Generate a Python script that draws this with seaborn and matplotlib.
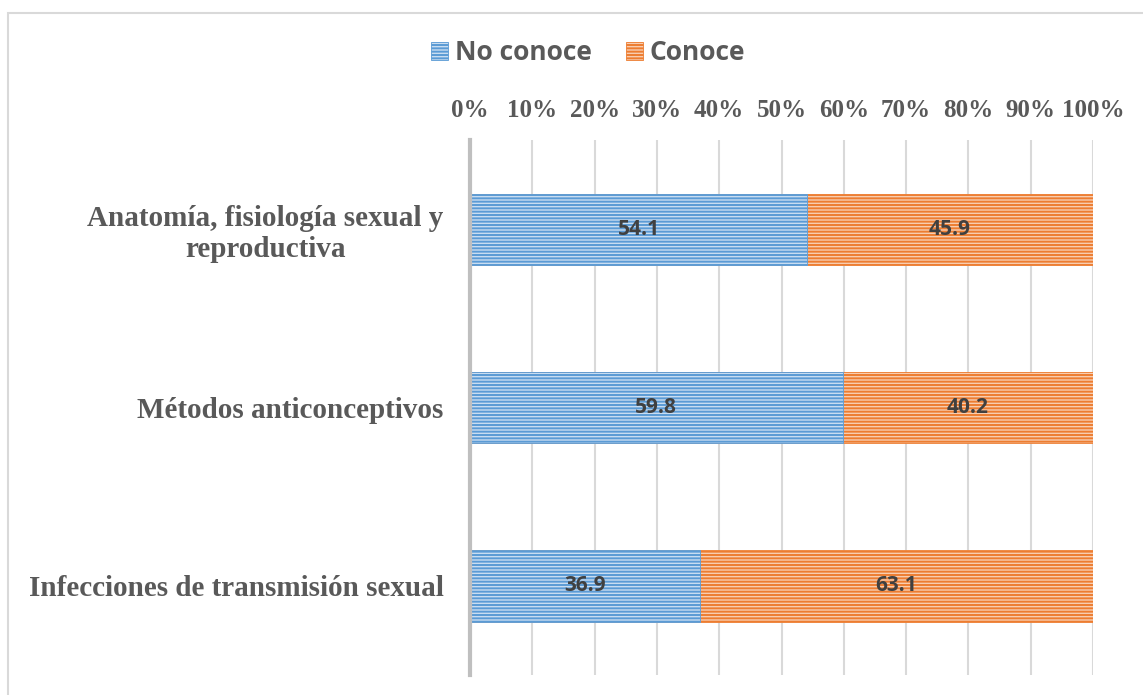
import matplotlib
matplotlib.use("Agg")
import matplotlib.pyplot as plt
import seaborn as sns
import pandas as pd
from matplotlib.patches import Rectangle, Patch

categories = ["Anatomía, fisiología sexual y\nreproductiva",
              "Métodos anticonceptivos",
              "Infecciones de transmisión sexual"]
no_conoce = [54.1, 59.8, 36.9]
conoce = [45.9, 40.2, 63.1]
series_names = ["No conoce", "Conoce"]
tick_values = [0, 10, 20, 30, 40, 50, 60, 70, 80, 90, 100]
tick_labels = ["0%", "10%", "20%", "30%", "40%", "50%", "60%", "70%", "80%", "90%", "100%"]

blue = "#5B9BD5"
blue_light = "#C9DDF1"
orange = "#ED7D31"
orange_light = "#F8CDB0"

sns.set_theme(style="white")
plt.rcParams["hatch.linewidth"] = 1.4

df = pd.DataFrame({"cat": categories, "no": no_conoce, "si": conoce})
df["total"] = df["no"] + df["si"]

fig = plt.figure(figsize=(11.43, 6.95), dpi=100)
ax = fig.add_axes([470 / 1143, 20 / 695, 623 / 1143, 535 / 695])

# Conoce (stacked, drawn as cumulative total)
sns.barplot(data=df, y="cat", x="total", orient="h", color=orange, width=0.4,
            ax=ax, zorder=2)
n1 = len(ax.patches)
for p in ax.patches[:n1]:
    p.set_facecolor(orange_light)
    p.set_edgecolor(orange)
    p.set_hatch("-----")
    p.set_linewidth(0.6)
sns.barplot(data=df, y="cat", x="no", orient="h", color=blue, width=0.4,
            ax=ax, zorder=3)
for p in ax.patches[n1:]:
    p.set_facecolor(blue_light)
    p.set_edgecolor(blue)
    p.set_hatch("-----")
    p.set_linewidth(0.6)

# data labels
for i in range(len(categories)):
    ax.text(no_conoce[i] / 2, i, f"{no_conoce[i]:.1f}", ha="center", va="center",
            fontsize=15, fontweight="bold", color="#404040", family="Open Sans", zorder=5)
    ax.text(no_conoce[i] + conoce[i] / 2, i, f"{conoce[i]:.1f}", ha="center", va="center",
            fontsize=15, fontweight="bold", color="#404040", family="Open Sans", zorder=5)

ax.set_xlim(0, 100)
ax.set_ylim(2.5, -0.5)
ax.set_xticks(tick_values)
ax.set_xticklabels(tick_labels)
ax.xaxis.tick_top()
ax.tick_params(axis="x", which="both", length=0, pad=13, labelsize=18, labelcolor="#595959")
ax.tick_params(axis="y", which="both", length=0, pad=19, labelsize=21, labelcolor="#595959")
for lab in ax.get_xticklabels():
    lab.set_family("Liberation Serif")
    lab.set_fontweight("bold")
for lab in ax.get_yticklabels():
    lab.set_family("Liberation Serif")
    lab.set_fontweight("bold")
    lab.set_multialignment("center")
    lab.set_linespacing(1.2)
ax.set_xlabel("")
ax.set_ylabel("")
ax.grid(axis="x", color="#D9D9D9", linewidth=1.5, zorder=0)
ax.set_axisbelow(True)
for s in ["top", "right", "bottom"]:
    ax.spines[s].set_visible(False)
ax.spines["left"].set_color("#BFBFBF")
ax.spines["left"].set_linewidth(3)
ax.spines["left"].set_zorder(6)

handles = [Patch(facecolor=blue_light, edgecolor=blue, hatch="-----", linewidth=0.6),
           Patch(facecolor=orange_light, edgecolor=orange, hatch="-----", linewidth=0.6)]
leg = fig.legend(handles, series_names, loc="center", bbox_to_anchor=(588 / 1143, 1 - 53 / 695),
                 ncol=2, frameon=False, handlelength=0.65, handleheight=0.65, handletextpad=0.25,
                 columnspacing=1.3, prop={"family": "Open Sans", "weight": "bold", "size": 19})
for t in leg.get_texts():
    t.set_color("#595959")

# chart border
fig.add_artist(Rectangle((8 / 1143, -0.1), 1.2, 1 - 13 / 695 + 0.1, transform=fig.transFigure,
                         fill=False, edgecolor="#D9D9D9", linewidth=1.5))

fig.savefig("out.png", dpi=100)
